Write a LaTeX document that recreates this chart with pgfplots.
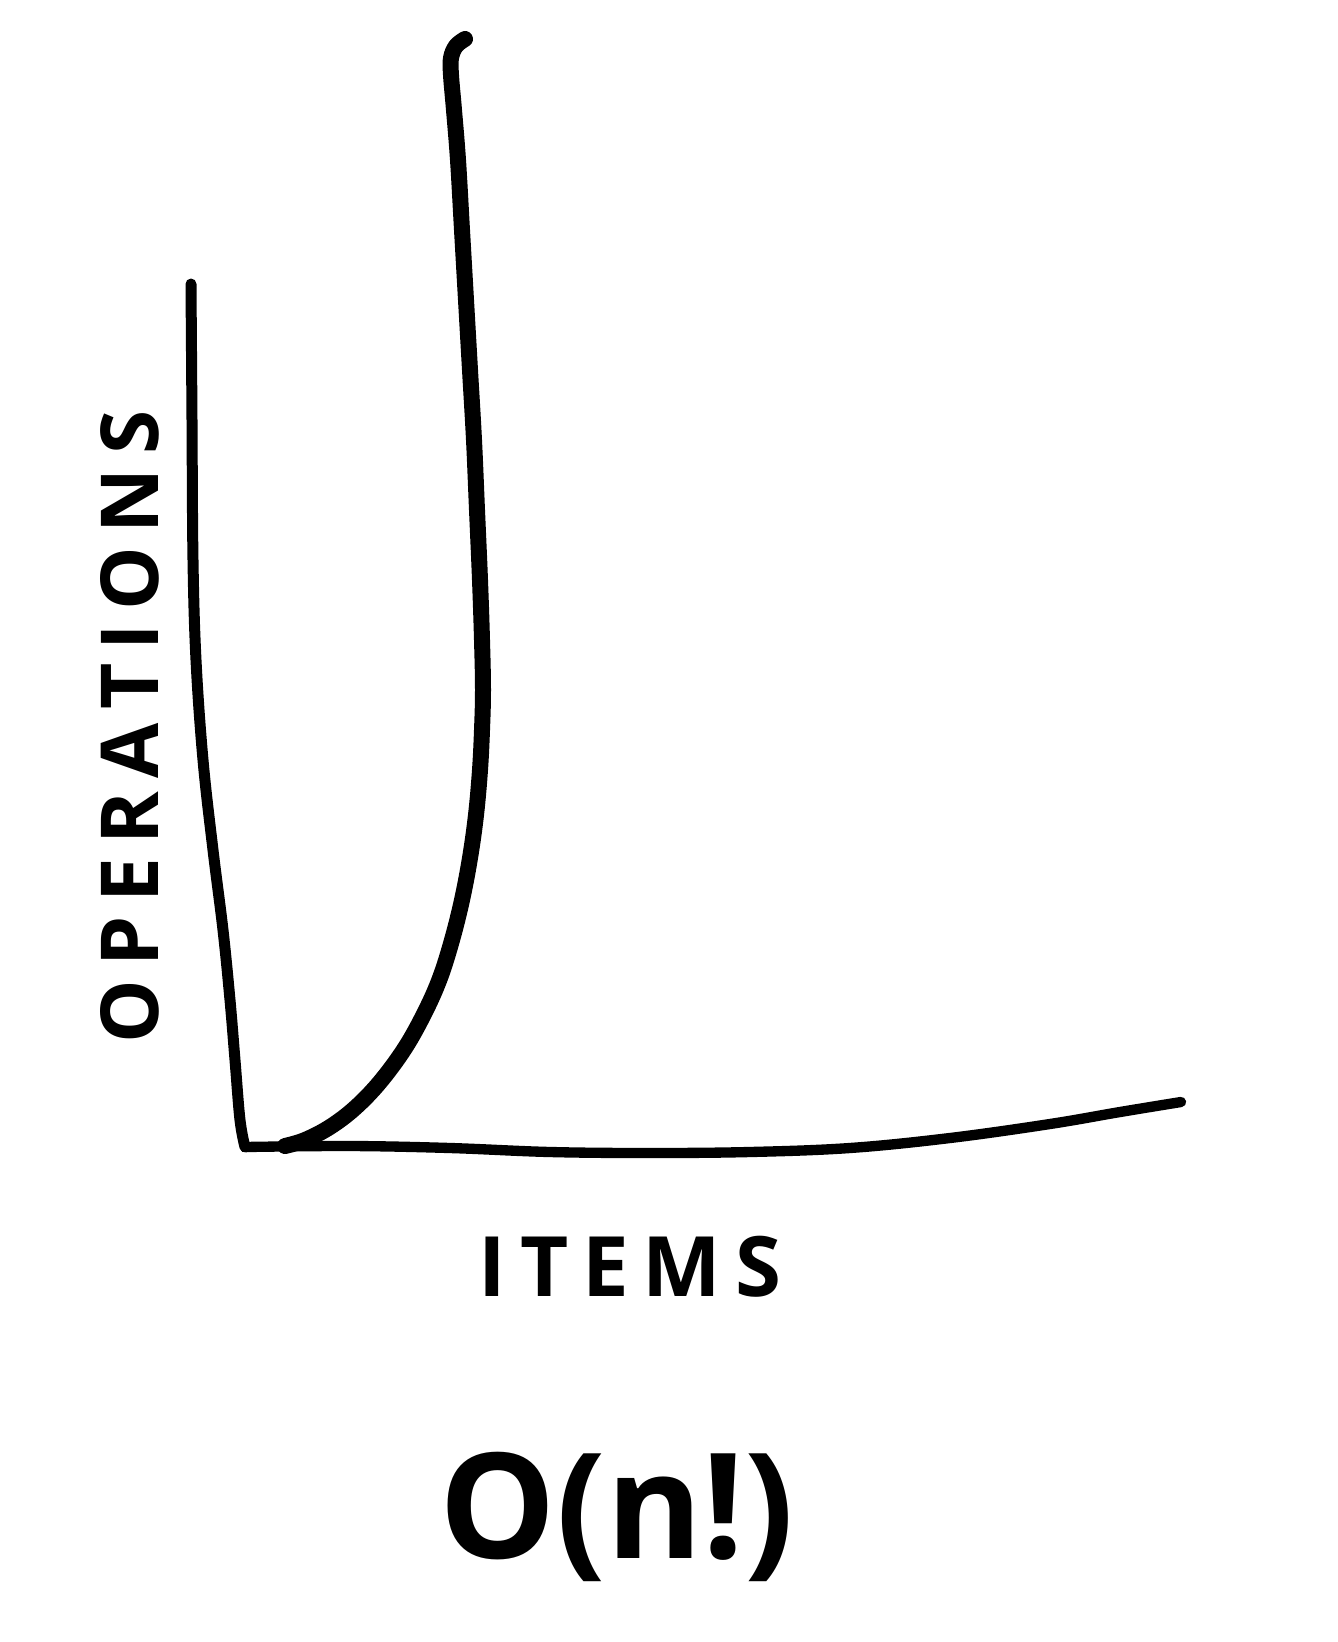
\documentclass[border=0pt]{standalone}
\usepackage{pgfplots}
\pgfplotsset{compat=1.18}
\usepackage{fontspec}
\setmainfont{Open Sans}

% hand-drawn strokes, traced in pixel coordinates of the sketch (y downwards)
\begin{document}
\begin{tikzpicture}
\begin{axis}[
  width=401.4pt, height=492.6pt, scale only axis,
  xmin=0, xmax=1338, ymin=0, ymax=1642,
  y dir=reverse,
  axis line style={draw=none}, xtick=\empty, ytick=\empty,
  clip=false,
]
% vertical axis
\addplot[black, line width=3.3pt, line cap=round, line join=round, smooth, tension=0.6] coordinates {
(191,284) (192,420) (193,560) (196,660) (203,760) (213,850) (223,930) (230,1000) (235,1060) (240,1120) (245,1147)
};
% horizontal axis
\addplot[black, line width=3.1pt, line cap=round, line join=round, smooth, tension=0.6] coordinates {
(245,1147) (350,1146) (450,1148) (550,1152) (650,1153) (750,1152) (850,1148) (950,1138) (1050,1124) (1120,1112) (1181,1102)
};
% O(n!) curve
\addplot[black, line width=4.8pt, line cap=round, line join=round, smooth, tension=0.6] coordinates {
(285,1146) (305,1140) (330,1127) (355,1108) (380,1082) (405,1048) (425,1012) (440,978) (452,940) (462,900) (470,858) (476,815) (480,770) (482,730) (483,690) (482,640) (480,580) (477,510) (474,440) (470,370) (466,300) (462,230) (458,160) (454,110) (451,75) (451,58) (456,46) (465,39)
};
\node[rotate=90, font=\bfseries\fontsize{24}{24}\selectfont] at (axis cs:130,727) {O\,P\,E\,R\,A\,T\,I\,O\,N\,S};
\node[font=\bfseries\fontsize{25}{25}\selectfont] at (axis cs:630,1267) {I\,T\,E\,M\,S};
\node[font=\bfseries\fontsize{44}{44}\selectfont] at (axis cs:617,1517) {O(n!)};
\end{axis}
\end{tikzpicture}
\end{document}
